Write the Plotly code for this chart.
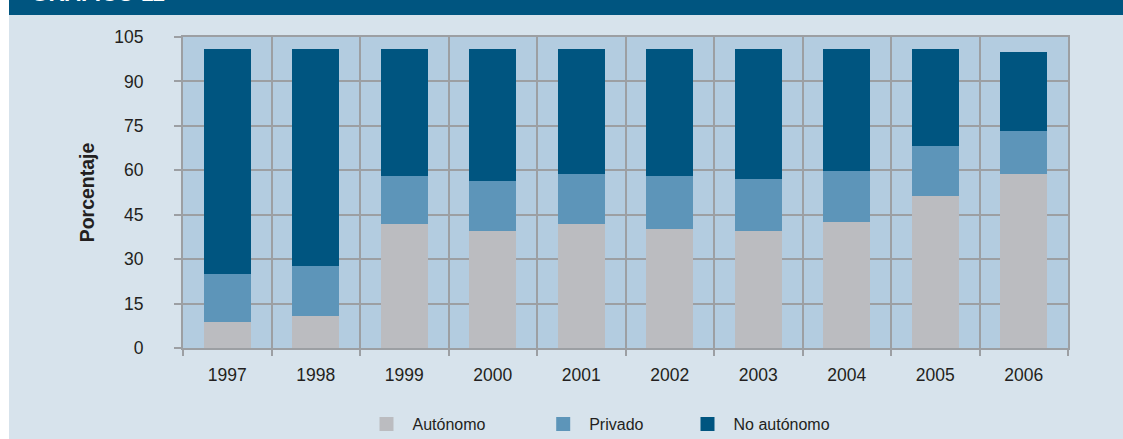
import plotly.graph_objects as go

years = ["1997", "1998", "1999", "2000", "2001", "2002", "2003", "2004", "2005", "2006"]
autonomo = [9.2, 11.2, 42.2, 39.9, 42.2, 40.5, 39.9, 42.8, 51.6, 59.1]
privado = [16.2, 16.9, 16.2, 16.8, 16.9, 17.9, 17.5, 17.2, 16.9, 14.4]
no_autonomo = [75.1, 72.4, 42.1, 43.8, 41.4, 42.1, 43.1, 40.5, 32.0, 26.0]
y_ticks = [0, 15, 30, 45, 60, 75, 90, 105]

C_AUT = "#BBBCC0"
C_PRI = "#5D95B9"
C_NOA = "#005580"
PANEL = "#D7E3EC"
PLOTBG = "#B3CCE0"
GRID = "#9C9FA3"
TXT = "#231F20"
FONT = "Liberation Sans, Arial, sans-serif"

fig = go.Figure()
for name, vals, col, lg in [("Autónomo", autonomo, C_AUT, "legend"),
                            ("Privado", privado, C_PRI, "legend2"),
                            ("No autónomo", no_autonomo, C_NOA, "legend3")]:
    fig.add_trace(go.Bar(x=years, y=vals, name=name, legend=lg, showlegend=True,
                         marker=dict(color=col, line=dict(color=col, width=2))))

W, H = 1123, 439
L, R, T, B = 183, 55, 37, 91
pw, ph = W - L - R, H - T - B

def px_x(p):
    return (p - L) / pw

def px_y(p):
    return (H - B - p) / ph

leg_common = dict(orientation="h", xanchor="left", yanchor="middle",
                  bgcolor="rgba(0,0,0,0)", itemwidth=42,
                  font=dict(family=FONT, size=16, color=TXT))
fig.update_layout(
    width=W, height=H, autosize=False,
    margin=dict(l=L, r=R, t=T, b=B, autoexpand=False),
    showlegend=True,
    barmode="stack", bargap=0.49,
    paper_bgcolor=PANEL, plot_bgcolor=PLOTBG,
    font=dict(family=FONT, color=TXT),
    legend=dict(x=px_x(360.5), y=px_y(424), **leg_common),
    legend2=dict(x=px_x(537.2), y=px_y(424), **leg_common),
    legend3=dict(x=px_x(681.5), y=px_y(424), **leg_common),
    xaxis=dict(type="category", tickson="boundaries", showgrid=True,
               gridcolor=GRID, gridwidth=2, ticks="outside", ticklen=6,
               tickcolor=GRID, tickwidth=1.5, showline=True, linecolor=GRID,
               linewidth=2, mirror=True, ticklabelstandoff=10, automargin=False,
               tickfont=dict(family=FONT, size=17.5, color=TXT)),
    yaxis=dict(range=[0, 105], tickvals=y_ticks, showgrid=True, gridcolor=GRID,
               gridwidth=2, zeroline=False, ticks="outside", ticklen=7,
               tickcolor=GRID, tickwidth=1.5, showline=True, linecolor=GRID,
               linewidth=2, mirror=True, ticklabelstandoff=27, automargin=False,
               tickfont=dict(family=FONT, size=17.5, color=TXT),
               title=dict(text="<b>Porcentaje</b>", standoff=14,
                          font=dict(family=FONT, size=19.5, color=TXT))),
    shapes=[
        dict(type="rect", xref="paper", yref="paper", x0=px_x(0), x1=px_x(9),
             y0=px_y(H), y1=px_y(0), fillcolor="white", line=dict(width=0)),
        dict(type="rect", xref="paper", yref="paper", x0=px_x(9), x1=px_x(W),
             y0=px_y(15), y1=px_y(0), fillcolor=C_NOA, line=dict(width=0)),
    ],
    annotations=[
        dict(text="<b>GRÁFICO 11</b>", xref="paper", yref="paper",
             x=px_x(29), y=px_y(8), xanchor="left", yanchor="bottom",
             showarrow=False, font=dict(family=FONT, size=22.5, color="white")),
    ],
)

fig.write_html("out.html")
